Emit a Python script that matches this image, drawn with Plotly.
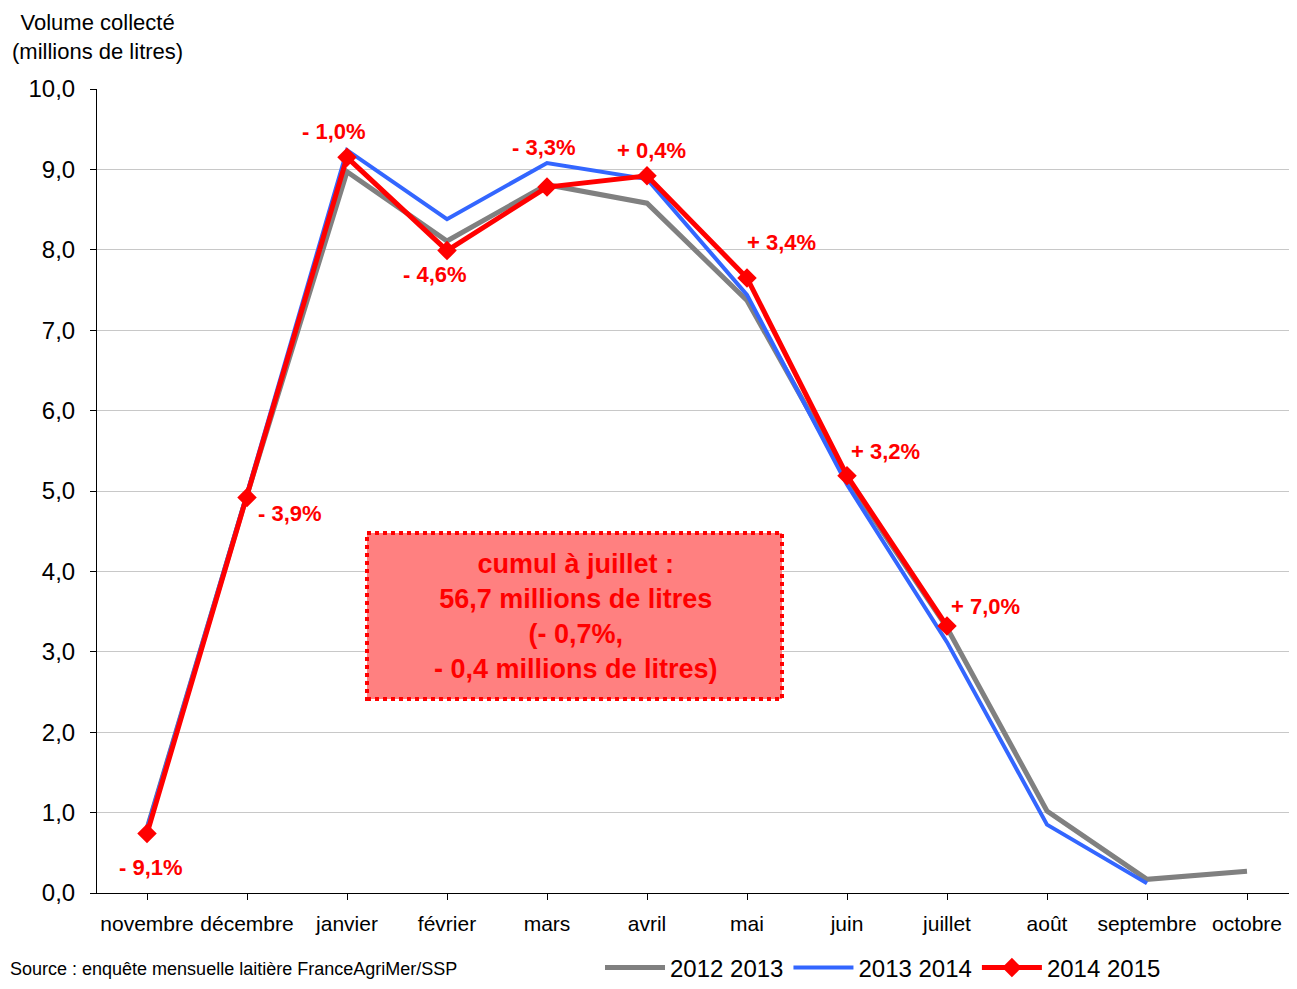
import plotly.graph_objects as go

months = ["novembre", "décembre", "janvier", "février", "mars", "avril",
          "mai", "juin", "juillet", "août", "septembre", "octobre"]
s_2012_2013 = [0.80, 4.95, 8.97, 8.11, 8.81, 8.58, 7.37, 5.15, 3.30, 1.02, 0.17, 0.27]
s_2013_2014 = [0.80, 4.97, 9.24, 8.38, 9.08, 8.88, 7.44, 5.08, 3.12, 0.85, 0.12, None]
s_2014_2015 = [0.74, 4.92, 9.15, 7.99, 8.78, 8.92, 7.65, 5.19, 3.32, None, None, None]
var_labels = ["- 9,1%", "- 3,9%", "- 1,0%", "- 4,6%", "- 3,3%", "+ 0,4%",
              "+ 3,4%", "+ 3,2%", "+ 7,0%"]
# label offsets (pixels) relative to each point
label_dx = [4, 43, -13, -12, -3, 4, 34, 38, 38]
label_dy = [34, 16, -26, 24, -40, -25, -35, -24, -20]
y_ticks = [0, 1, 2, 3, 4, 5, 6, 7, 8, 9, 10]

x = list(range(len(months)))
FONT = "Liberation Sans, Arial, sans-serif"

# page body has an 8px margin; keep the whole page inside the 1297x989 window
PW, PH = 1281, 973
ML, MT = 89, 81
PLOT_W, PLOT_H = PW - ML, 804
CAT_W = 100.0


def px(page_x):
    return (page_x - 97) / PLOT_W


def py(page_y):
    return (893 - page_y) / PLOT_H


fig = go.Figure()
fig.add_trace(go.Scatter(x=x, y=s_2012_2013, name="2012 2013", mode="lines",
                         line=dict(color="#808080", width=5)))
fig.add_trace(go.Scatter(x=x, y=s_2013_2014, name="2013 2014", mode="lines",
                         line=dict(color="#3366FF", width=4)))
fig.add_trace(go.Scatter(x=x, y=s_2014_2015, name="2014 2015", mode="lines+markers",
                         line=dict(color="#FF0000", width=5),
                         marker=dict(symbol="diamond", size=15, color="#FF0000")))

for i, lab in enumerate(var_labels):
    fig.add_annotation(x=x[i], y=s_2014_2015[i], text=f"<b>{lab}</b>",
                       showarrow=False, xshift=label_dx[i], yshift=-label_dy[i],
                       font=dict(family=FONT, size=22, color="#FF0000"))

# cumulative summary box
fig.add_shape(type="rect", xref="paper", yref="paper",
              x0=px(367), x1=px(782), y0=py(699), y1=py(533),
              fillcolor="#FF8080", line=dict(color="#FF0000", width=4, dash="dot"),
              layer="above")
fig.add_annotation(xref="paper", yref="paper", x=px(576), y=py(616),
                   text="<b>cumul à juillet :<br>56,7 millions de litres<br>(- 0,7%,<br>- 0,4 millions de litres)</b>",
                   showarrow=False, align="center", xanchor="center", yanchor="middle",
                   font=dict(family=FONT, size=27, color="#FF0000"))

# axis title
fig.add_annotation(xref="paper", yref="paper", x=px(97), y=py(37),
                   text="Volume collecté<br>(millions de litres)", showarrow=False,
                   align="center", xanchor="center", yanchor="middle",
                   font=dict(family=FONT, size=22, color="#000000"))

# source
fig.add_annotation(xref="paper", yref="paper", x=px(8), y=py(969),
                   text="Source : enquête mensuelle laitière FranceAgriMer/SSP",
                   showarrow=False, xanchor="left", yanchor="middle",
                   font=dict(family=FONT, size=18, color="#000000"))

fig.update_layout(
    width=PW, height=PH,
    margin=dict(l=ML, r=0, t=MT, b=PH - MT - PLOT_H, autoexpand=False),
    paper_bgcolor="white", plot_bgcolor="white",
    separators=",.",
    font=dict(family=FONT, size=21, color="#000000"),
    showlegend=True,
    legend=dict(orientation="h", x=px(600), y=py(968),
                xanchor="left", yanchor="middle", itemwidth=60,
                font=dict(family=FONT, size=24, color="#000000"),
                bgcolor="rgba(0,0,0,0)", tracegroupgap=0, itemclick=False),
    xaxis=dict(tickmode="array", tickvals=x, ticktext=months,
               range=[-0.5, -0.5 + PLOT_W / CAT_W], showgrid=False, showline=True,
               linecolor="#000000", linewidth=1, ticks="outside",
               tickson="boundaries", ticklen=6, tickcolor="#000000",
               ticklabelstandoff=6, ticklabeloverflow="allow",
               zeroline=False, automargin=False,
               tickfont=dict(size=21)),
    yaxis=dict(range=[0, 10], tickvals=y_ticks, tickformat=".1f",
               showgrid=True, gridcolor="#C8C8C8", gridwidth=1,
               showline=True, linecolor="#000000", linewidth=1,
               ticks="outside", ticklen=6, tickcolor="#000000",
               ticklabelstandoff=10, zeroline=False, automargin=False,
               tickfont=dict(size=24)),
)

fig.write_html("out.html")
